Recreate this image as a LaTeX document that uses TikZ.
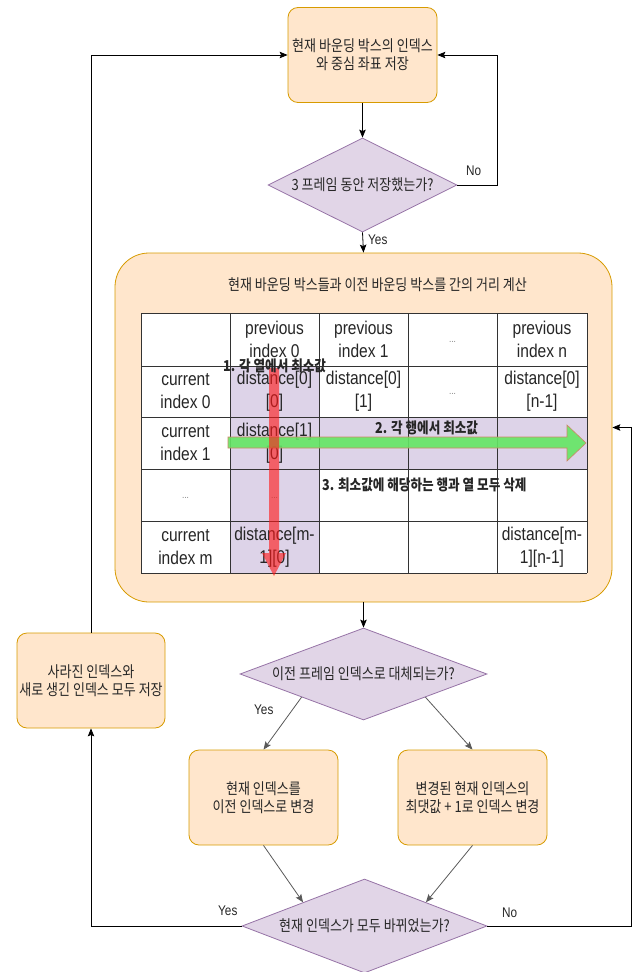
\documentclass[tikz,border=0pt]{standalone}
\usepackage{fontspec}
\setmainfont{Liberation Sans}[FakeStretch=0.84]
\newfontfamily\kr{Noto Sans CJK KR}[FakeStretch=0.84]
\usetikzlibrary{shapes.geometric,arrows.meta}
\definecolor{boxfill}{HTML}{FFE6CC}
\definecolor{boxline}{HTML}{D79B00}
\definecolor{dfill}{HTML}{E1D5E7}
\definecolor{dline}{HTML}{9673A6}
\definecolor{txt}{HTML}{262626}
\definecolor{hl}{HTML}{DDD3E8}
\definecolor{gfill}{RGB}{100,230,100}
\definecolor{gline}{RGB}{205,135,100}
\begin{document}
\begin{tikzpicture}[x=1pt,y=-1pt,
  font=\kr\fontsize{15.5}{18}\selectfont,
  procbox/.style={draw=boxline, fill=boxfill, rounded corners=10pt, line width=0.8pt,
    minimum width=149pt, minimum height=95pt, inner sep=0pt, align=center, text=txt},
  decision/.style={diamond, draw=dline, fill=dfill, line width=0.8pt, inner sep=0pt, text=txt},
  conn/.style={-{Stealth[length=8pt,width=6.5pt,inset=1.5pt]}, line width=0.8pt, draw=black},
  diag/.style={conn, draw=black!65},
  cell/.style={font=\rmfamily\fontsize{18.5}{23}\selectfont, align=center, text=txt, inner sep=0pt},
  dots/.style={font=\rmfamily\fontsize{10}{12}\selectfont, text=gray, inner sep=0pt},
  lbl/.style={font=\rmfamily\fontsize{14}{16}\selectfont, text=txt, inner sep=0pt, anchor=west},
  note/.style={font=\kr\bfseries\fontsize{15}{16}\selectfont, text=black!85, inner sep=0pt, anchor=west},
  tline/.style={line width=0.8pt, draw=black!80}
]
\useasboundingbox (0,0) rectangle (635,972);

% main boxes
\node[procbox] (top) at (362.5,55) {현재 바운딩 박스의 인덱스\\와 중심 좌표 저장};
\node[decision, minimum width=189pt, minimum height=94pt, aspect=2] (d1) at (362.5,185) {3 프레임 동안 저장했는가?};
\node[draw=boxline, fill=boxfill, line width=0.8pt, rounded corners=34pt, minimum width=497pt, minimum height=349pt, inner sep=0pt] (big) at (363.5,427.5) {};
\node[text=txt, inner sep=0pt] (title) at (377.5,285) {현재 바운딩 박스들과 이전 바운딩 박스를 간의 거리 계산};

% table
\fill[white] (141,313) rectangle (587,573);
\fill[hl] (230,366) rectangle (319,573);
\fill[hl] (230,417) rectangle (587,469);
\foreach \xx in {141,230,319,408,497,587} \draw[tline] (\xx,313) -- (\xx,573);
\foreach \yy in {313,366,417,469,521,573} \draw[tline] (141,\yy) -- (587,\yy);

\node[cell] (c01) at (274.5,339.5) {previous\\index 0};
\node[cell] (c02) at (363.5,339.5) {previous\\index 1};
\node[dots] (c03) at (452.5,342) {...};
\node[cell] (c04) at (542,339.5) {previous\\index n};
\node[cell] (c10) at (185.5,391.5) {current\\index 0};
\node[cell] (c11) at (274.5,391.5) {distance[0]\\{}[0]};
\node[cell] (c12) at (363.5,391.5) {distance[0]\\{}[1]};
\node[dots] (c13) at (452.5,394) {...};
\node[cell] (c14) at (542,391.5) {distance[0]\\{}[n-1]};
\node[cell] (c20) at (185.5,443) {current\\index 1};
\node[cell] (c21) at (274.5,443) {distance[1]\\{}[0]};
\node[dots] (c30) at (185.5,498) {...};
\node[dots] (c31) at (274.5,498) {...};
\node[cell] (c40) at (185.5,547) {current\\index m};
\node[cell] (c41) at (274.5,547) {distance[m-\\1][0]};
\node[cell] (c44) at (542,547) {distance[m-\\1][n-1]};

% green and red block arrows
\filldraw[fill=gfill, draw=gline, line width=0.6pt, fill opacity=0.9]
  (228,437) -- (567,437) -- (567,425) -- (586,443) -- (567,461) -- (567,448) -- (228,448) -- cycle;
\fill[red!90!white, fill opacity=0.62]
  (269,368) -- (279,368) -- (279,553) -- (286,553) -- (274,576) -- (262,553) -- (269,553) -- cycle;

\node[note] (n1) at (223,366) {1. 각 열에서 최소값};
\node[note] (n2) at (375,428) {2. 각 행에서 최소값};
\node[note] (n3) at (322,485) {3. 최소값에 해당하는 행과 열 모두 삭제};

% lower part
\node[decision, minimum width=247pt, minimum height=92pt, aspect=2.68] (d2) at (363.5,674) {이전 프레임 인덱스로 대체되는가?};
\node[procbox, minimum width=148pt] (lb) at (91,680.5) {사라진 인덱스와\\새로 생긴 인덱스 모두 저장};
\node[procbox] (b3) at (263.5,797.5) {현재 인덱스를\\이전 인덱스로 변경};
\node[procbox] (b4) at (472.5,797.5) {변경된 현재 인덱스의\\최댓값 + 1로 인덱스 변경};
\node[decision, minimum width=245pt, minimum height=94pt, aspect=2.6] (d3) at (364.5,926) {현재 인덱스가 모두 바뀌었는가?};

% connectors
\coordinate (r1) at (497,185);
\coordinate (r2) at (631,926);
\draw[conn] (top.south) -- (d1.north);
\draw[conn] (d1.south) -- (big.north);
\draw[conn] (d1.east) -- (r1) |- (top.east);
\draw[conn] (big.south) -- (d2.north);
\draw[diag] (d2.south west) -- (b3.north);
\draw[diag] (d2.south east) -- (b4.north);
\draw[diag] (b3.south) -- (d3.north west);
\draw[diag] (b4.south) -- (d3.north east);
\draw[conn] (d3.west) -| (lb.south);
\draw[conn] (lb.north) |- (top.west);
\draw[conn] (d3.east) -- (r2) |- (big.east);

% edge labels
\node[lbl] (y1) at (368,240) {Yes};
\node[lbl] (no1) at (466,171) {No};
\node[lbl] (y2) at (254,710) {Yes};
\node[lbl] (y3) at (218,911) {Yes};
\node[lbl] (no3) at (502,913) {No};
\end{tikzpicture}
\end{document}
